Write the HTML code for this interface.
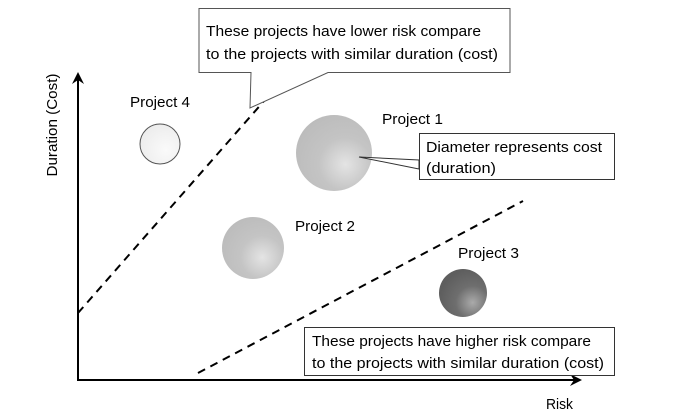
<!DOCTYPE html>
<html><head><style>
html,body{margin:0;padding:0;background:#fff;}
svg{display:block;}
text{font-family:"Liberation Sans",sans-serif;font-size:15px;fill:#000;}
</style></head><body>
<svg width="679" height="420" viewBox="0 0 679 420" xmlns="http://www.w3.org/2000/svg">
<defs>
<radialGradient id="g1" cx="0.65" cy="0.65" r="0.7"><stop offset="0" stop-color="#e4e4e4"/><stop offset="0.5" stop-color="#c4c4c4"/><stop offset="1" stop-color="#bcbcbc"/></radialGradient>
<radialGradient id="g3" cx="0.7" cy="0.7" r="0.7"><stop offset="0" stop-color="#aaa"/><stop offset="0.5" stop-color="#6e6e6e"/><stop offset="1" stop-color="#5e5e5e"/></radialGradient>
<radialGradient id="g4" cx="0.65" cy="0.65" r="0.7"><stop offset="0" stop-color="#fafafa"/><stop offset="1" stop-color="#ececec"/></radialGradient>
</defs>
<!-- axes -->
<line x1="78" y1="380" x2="78" y2="78" stroke="#000" stroke-width="2"/>
<path d="M72,84 L78,72 L84,84 L78,80 Z" fill="#000"/>
<line x1="77" y1="380" x2="576" y2="380" stroke="#000" stroke-width="2"/>
<path d="M570,374 L582,380 L570,386 L574,380 Z" fill="#000"/>
<!-- dashed -->
<line x1="78" y1="313" x2="264" y2="101" stroke="#000" stroke-width="2" stroke-dasharray="8,6"/>
<line x1="198" y1="373" x2="523" y2="201" stroke="#000" stroke-width="2" stroke-dasharray="8,6"/>
<!-- circles -->
<circle cx="160" cy="144" r="20" fill="url(#g4)" stroke="#555" stroke-width="1"/>
<circle cx="334" cy="153" r="38" fill="url(#g1)"/>
<circle cx="253" cy="248" r="31" fill="url(#g1)"/>
<circle cx="463" cy="293" r="24" fill="url(#g3)"/>
<!-- top callout -->
<path d="M199,8.5 H510 V72.5 H328 L250,108 L251,72.5 H199 Z" fill="#fff" stroke="#555" stroke-width="1"/>
<text x="206" y="36" textLength="275" lengthAdjust="spacingAndGlyphs">These projects have lower risk compare</text>
<text x="206" y="59" textLength="292" lengthAdjust="spacingAndGlyphs">to the projects with similar duration (cost)</text>
<!-- diameter callout -->
<path d="M359,157 L419,160 L419,169 Z" fill="#fff" stroke="#333" stroke-width="1"/>
<rect x="419.5" y="133.5" width="195" height="46" fill="#fff" stroke="#333" stroke-width="1"/>
<text x="426" y="152" textLength="176" lengthAdjust="spacingAndGlyphs">Diameter represents cost</text>
<text x="426" y="173" textLength="70" lengthAdjust="spacingAndGlyphs">(duration)</text>
<!-- bottom box -->
<rect x="304.5" y="327.5" width="310" height="48" fill="#fff" stroke="#333" stroke-width="1"/>
<text x="312" y="346" textLength="279" lengthAdjust="spacingAndGlyphs">These projects have higher risk compare</text>
<text x="312" y="368" textLength="292" lengthAdjust="spacingAndGlyphs">to the projects with similar duration (cost)</text>
<!-- labels -->
<text x="130" y="107" textLength="60" lengthAdjust="spacingAndGlyphs">Project 4</text>
<text x="382" y="124" textLength="61" lengthAdjust="spacingAndGlyphs">Project 1</text>
<text x="295" y="231" textLength="60" lengthAdjust="spacingAndGlyphs">Project 2</text>
<text x="458" y="258" textLength="61" lengthAdjust="spacingAndGlyphs">Project 3</text>
<text x="546" y="409" textLength="27" lengthAdjust="spacingAndGlyphs">Risk</text>
<text transform="translate(57,125) rotate(-90)" text-anchor="middle" textLength="103" lengthAdjust="spacingAndGlyphs">Duration (Cost)</text>
</svg>
</body></html>
